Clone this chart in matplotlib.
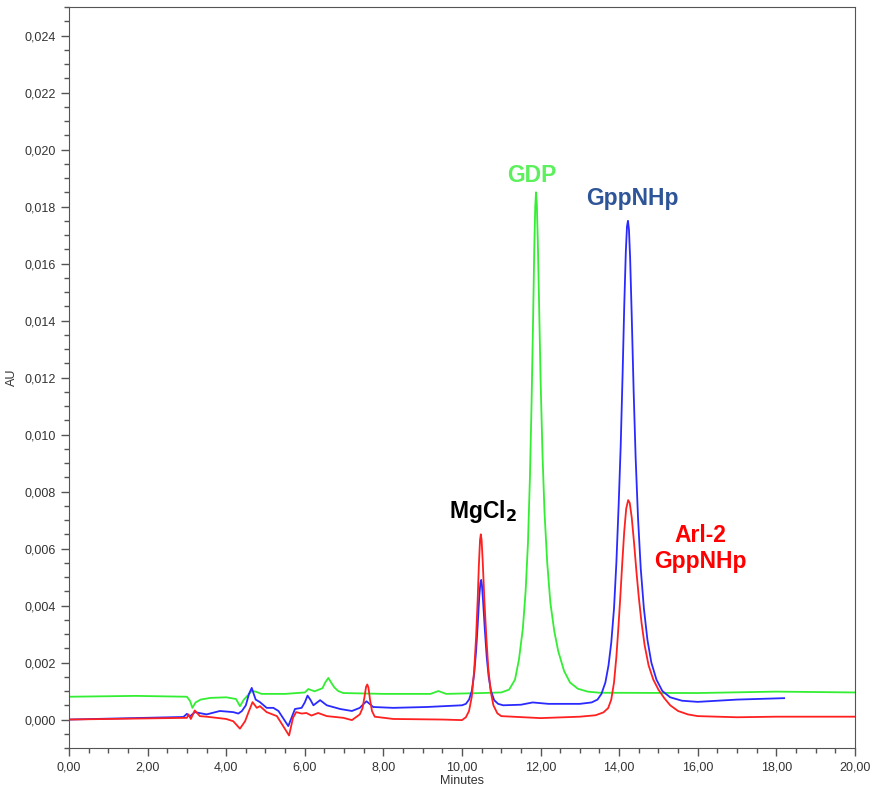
import matplotlib.pyplot as plt
from matplotlib.ticker import MultipleLocator, FuncFormatter

plt.rcParams['font.family'] = ['Liberation Sans', 'DejaVu Sans']

# green trace (GDP)
gdp_t = [0.0, 1.7, 3.0, 3.08, 3.14, 3.22, 3.35, 3.6, 4.0, 4.25, 4.35, 4.45, 4.55, 4.65,
         4.75, 4.9, 5.5, 6.0, 6.09, 6.25, 6.45, 6.52, 6.6, 6.67, 6.75, 6.85, 6.98, 8.0,
         9.2, 9.4, 9.6, 10.5, 11.0, 11.2, 11.35, 11.45, 11.55, 11.62, 11.68, 11.73, 11.77,
         11.81, 11.84, 11.865, 11.885, 11.905, 11.93, 11.96, 12.0, 12.05, 12.1, 12.17,
         12.25, 12.35, 12.45, 12.6, 12.75, 12.95, 13.2, 13.5, 16.0, 18.0, 20.0]
gdp_v = [0.0008, 0.00083, 0.0008, 0.00065, 0.00041, 0.0006, 0.0007, 0.00076, 0.00078,
         0.00072, 0.00047, 0.0007, 0.00085, 0.001, 0.00098, 0.0009, 0.0009, 0.00095,
         0.00107, 0.00099, 0.0011, 0.0013, 0.00146, 0.0013, 0.00113, 0.001, 0.00093,
         0.0009, 0.0009, 0.001, 0.0009, 0.00093, 0.00095, 0.00105, 0.0014, 0.0021, 0.0032,
         0.0045, 0.0062, 0.0085, 0.011, 0.014, 0.0165, 0.018, 0.0185, 0.0181, 0.0168,
         0.0148, 0.012, 0.0093, 0.0073, 0.0055, 0.0041, 0.0031, 0.0024, 0.0017, 0.0013,
         0.00108, 0.00098, 0.00094, 0.00093, 0.00098, 0.00095]

# blue trace (GppNHp)
gpp_t = [0.0, 2.91, 3.0, 3.07, 3.2, 3.5, 3.84, 4.18, 4.31, 4.4, 4.5, 4.58, 4.65, 4.7,
         4.75, 4.86, 5.03, 5.2, 5.33, 5.58, 5.75, 5.92, 6.0, 6.07, 6.14, 6.22, 6.39, 6.56,
         6.9, 7.2, 7.4, 7.5, 7.57, 7.65, 7.74, 8.25, 9.1, 10.0, 10.1, 10.18, 10.25, 10.31,
         10.36, 10.4, 10.44, 10.47, 10.49, 10.51, 10.54, 10.58, 10.63, 10.68, 10.74, 10.82,
         10.92, 11.05, 11.5, 11.8, 12.2, 13.0, 13.3, 13.45, 13.55, 13.65, 13.73, 13.8,
         13.87, 13.93, 13.99, 14.04, 14.09, 14.13, 14.17, 14.2, 14.225, 14.25, 14.28,
         14.32, 14.37, 14.42, 14.48, 14.55, 14.63, 14.72, 14.82, 14.95, 15.1, 15.3, 15.6,
         16.0, 17.0, 18.2]
gpp_v = [0.0, 0.00009, 0.0002, 0.0001, 0.00026, 0.00018, 0.0003, 0.00026, 0.00021,
         0.0003, 0.0005, 0.0009, 0.00111, 0.0009, 0.0007, 0.00061, 0.00041, 0.00041,
         0.0003, -0.00023, 0.00037, 0.00041, 0.0006, 0.00084, 0.0007, 0.0005, 0.00068,
         0.0005, 0.00037, 0.0003, 0.00041, 0.00055, 0.00064, 0.00055, 0.00044, 0.00041,
         0.00044, 0.0005, 0.00055, 0.0007, 0.001, 0.0016, 0.0024, 0.0033, 0.0043, 0.0048,
         0.0049, 0.0047, 0.0041, 0.0032, 0.0022, 0.0015, 0.001, 0.00068, 0.00055, 0.0005,
         0.00052, 0.0006, 0.00055, 0.00055, 0.0006, 0.0007, 0.0009, 0.0013, 0.0019, 0.0027,
         0.0039, 0.0055, 0.0076, 0.0096, 0.0122, 0.0145, 0.0164, 0.0173, 0.0175, 0.0172,
         0.0162, 0.0142, 0.0115, 0.0092, 0.0071, 0.0053, 0.0039, 0.0028, 0.002, 0.0014,
         0.001, 0.00078, 0.00066, 0.00062, 0.0007, 0.00075]

# red trace (Arl-2 GppNHp)
arl_t = [0.0, 3.0, 3.04, 3.1, 3.2, 3.33, 3.5, 4.0, 4.18, 4.35, 4.48, 4.58, 4.67, 4.78,
         4.86, 5.03, 5.29, 5.6, 5.7, 5.78, 5.92, 6.04, 6.17, 6.34, 6.56, 6.98, 7.2, 7.4,
         7.47, 7.52, 7.56, 7.59, 7.62, 7.66, 7.71, 7.78, 8.25, 9.5, 10.0, 10.1, 10.18,
         10.25, 10.31, 10.36, 10.4, 10.43, 10.46, 10.48, 10.5, 10.53, 10.57, 10.62, 10.67,
         10.73, 10.8, 10.9, 11.0, 12.0, 13.0, 13.4, 13.6, 13.72, 13.8, 13.87, 13.93,
         13.98, 14.03, 14.08, 14.13, 14.18, 14.23, 14.27, 14.32, 14.38, 14.44, 14.5,
         14.57, 14.65, 14.75, 14.87, 15.0, 15.15, 15.3, 15.5, 15.75, 16.0, 17.0, 18.0, 20.0]
arl_v = [0.0, 0.00006, 0.00018, 0.00002, 0.00032, 0.00012, 0.0001, 0.00002, -0.00006,
         -0.00032, -0.00006, 0.0003, 0.00061, 0.00041, 0.00047, 0.00026, 0.00012,
         -0.00056, 0.00006, 0.00026, 0.00021, 0.00023, 0.00014, 0.00023, 0.00012, 0.00006,
         -0.00002, 0.00018, 0.0004, 0.0008, 0.00115, 0.00123, 0.00112, 0.0007, 0.0003,
         0.0001, 0.00002, 0.0, -0.00002, 0.00008, 0.0003, 0.0008, 0.0017, 0.0029, 0.0042,
         0.0054, 0.0063, 0.0065, 0.0063, 0.0055, 0.0042, 0.0029, 0.0018, 0.001, 0.0005,
         0.00022, 0.00012, 0.00005, 0.0001, 0.00015, 0.00025, 0.0004, 0.0007, 0.0013,
         0.0022, 0.0032, 0.0043, 0.0055, 0.0066, 0.0074, 0.0077, 0.0076, 0.0071, 0.0062,
         0.0052, 0.0043, 0.0034, 0.0026, 0.0019, 0.0014, 0.00105, 0.00075, 0.0005, 0.0003,
         0.00018, 0.00012, 0.00008, 0.0001, 0.0001]

fig = plt.figure(figsize=(8.75, 7.86), dpi=100)
ax = fig.add_axes([0.0789, 0.0483, 0.8981, 0.9427])

ax.plot(gdp_t, gdp_v, color='#33ee33', lw=1.3)
ax.plot(gpp_t, gpp_v, color='#2a2aff', lw=1.3)
ax.plot(arl_t, arl_v, color='#ff2020', lw=1.3)

ax.set_xlim(0, 20)
ax.set_ylim(-0.001, 0.025)
ax.xaxis.set_major_locator(MultipleLocator(2))
ax.xaxis.set_minor_locator(MultipleLocator(0.5))
ax.yaxis.set_major_locator(MultipleLocator(0.002))
ax.yaxis.set_minor_locator(MultipleLocator(0.0005))
ax.xaxis.set_major_formatter(FuncFormatter(lambda v, p: f'{v:.2f}'.replace('.', ',')))
ax.yaxis.set_major_formatter(FuncFormatter(lambda v, p: f'{v:.3f}'.replace('.', ',')))
ax.tick_params(which='major', length=6, width=1, color='#555555', labelsize=9, labelcolor='#333333')
ax.tick_params(which='minor', length=3.5, width=1, color='#555555')
for s in ax.spines.values():
    s.set_color('#555555')
ax.set_xlabel('Minutes', fontsize=9, color='#333333', labelpad=1)
ax.set_ylabel('AU', fontsize=9, color='#333333')
ax.yaxis.set_label_coords(-0.065, 0.5)

ax.text(11.78, 0.0191, 'GDP', color='#5cf05c', fontsize=16.5, fontweight='bold', ha='center', va='center')
ax.text(14.33, 0.0183, 'GppNHp', color='#2e5597', fontsize=16.5, fontweight='bold', ha='center', va='center')
ax.text(10.53, 0.0073, r'MgCl$_\mathbf{2}$', color='black', fontsize=16.5, fontweight='bold', ha='center', va='center')
ax.text(16.06, 0.0060, 'Arl-2\nGppNHp', color='#ff0000', fontsize=16.5, fontweight='bold', ha='center', va='center', linespacing=1.15)

fig.savefig('out.png', dpi=100)
